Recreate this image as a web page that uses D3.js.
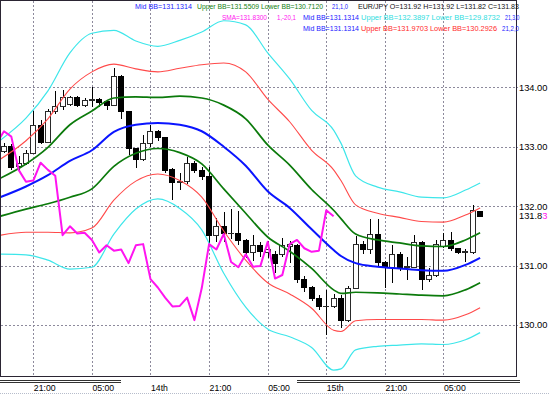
<!DOCTYPE html>
<html><head><meta charset="utf-8">
<script src="https://cdn.jsdelivr.net/npm/d3@7"></script>
<style>html,body{margin:0;padding:0;background:#fff;overflow:hidden}svg{display:block}</style>
</head><body><svg id="c" width="549" height="394"></svg>
<script>
// ---------------- DATA ----------------
const open  = [132.93,133.02,132.68,132.73,132.90,133.36,133.08,133.60,133.69,133.72,133.84,133.70,133.79,133.80,133.77,133.70,134.19,133.60,132.98,132.80,133.06,133.26,133.17,132.62,132.41,132.42,132.73,132.61,132.51,131.52,131.67,131.54,131.55,131.43,131.22,131.34,131.22,131.20,131.20,131.33,131.34,130.77,130.63,130.46,130.31,130.31,130.46,130.08,130.62,131.36,131.27,131.53,131.06,130.97,131.20,130.98,130.98,131.40,130.78,130.84,131.33,131.43,131.29,131.23,131.23,131.92];
const high  = [133.06,133.04,132.85,132.95,133.60,133.45,133.63,133.93,133.95,133.86,133.86,133.82,134.00,133.82,133.79,134.32,134.20,133.60,132.98,133.20,133.37,133.28,133.17,132.64,132.55,132.82,132.76,132.66,132.66,131.80,131.90,131.95,131.91,131.45,131.52,131.40,131.42,131.25,131.47,131.42,131.36,130.82,130.66,130.50,130.59,130.52,130.50,130.65,131.49,131.42,131.79,131.79,131.08,131.35,131.22,131.15,131.51,131.42,130.96,131.43,131.54,131.56,131.30,131.27,132.02,131.92];
const low   = [132.90,132.60,132.60,132.70,132.88,133.05,133.06,133.55,133.62,133.68,133.66,133.66,133.66,133.67,133.62,133.68,133.46,132.86,132.64,132.76,133.00,133.10,132.55,132.10,132.27,132.38,132.55,132.44,131.37,131.40,131.40,131.45,131.34,131.12,131.08,131.15,131.12,130.88,131.15,131.05,130.70,130.55,130.40,130.25,129.83,130.28,129.94,130.05,130.60,131.20,131.20,131.00,130.62,130.70,130.90,130.76,130.96,130.59,130.72,130.80,131.30,131.25,131.20,131.06,131.20,131.82];
const close = [133.02,132.66,132.73,132.90,133.36,133.08,133.60,133.69,133.83,133.84,133.70,133.78,133.80,133.76,133.70,134.19,133.60,132.98,132.80,133.06,133.26,133.17,132.61,132.41,132.43,132.73,132.61,132.51,131.51,131.66,131.54,131.55,131.43,131.22,131.34,131.25,131.27,131.04,131.34,131.36,130.77,130.63,130.46,130.31,130.32,130.46,130.08,130.62,131.36,131.27,131.53,131.06,130.97,131.19,130.98,130.99,131.40,130.78,130.84,131.36,131.43,131.29,131.23,131.25,131.93,131.83];
const smaShift = -20;   // SMA(1) shifted -20 bars (magenta)

// Bollinger band readings, at these bar indices
const bandIdx = [-0.5,3,6,9,12,15,18,21,24,27,30,33,36,39,42,45,46,48,51,54,57,60,63,65];
const midBB   = [132.15,132.33,132.52,132.76,132.94,133.25,133.37,133.40,133.37,133.26,133.00,132.68,132.25,131.97,131.61,131.26,131.16,131.04,130.98,130.95,130.92,130.91,131.01,131.13];
const upper1  = [132.47,132.71,132.99,133.37,133.60,133.82,133.84,133.83,133.85,133.82,133.70,133.47,133.03,132.69,132.28,131.93,131.79,131.53,131.43,131.38,131.33,131.32,131.43,131.55];
const lower1  = [131.83,131.95,132.04,132.15,132.29,132.67,132.89,132.97,132.90,132.71,132.29,131.88,131.48,131.24,130.95,130.59,130.53,130.55,130.54,130.52,130.50,130.49,130.59,130.71];
const upper2  = [132.79,133.10,133.47,133.97,134.26,134.39,134.31,134.26,134.32,134.38,134.41,134.26,133.80,133.42,132.94,132.61,132.43,132.02,131.88,131.81,131.74,131.73,131.85,131.97];
const lower2  = [131.51,131.56,131.56,131.55,131.63,132.10,132.42,132.54,132.43,132.15,131.58,131.09,130.71,130.52,130.28,129.91,129.89,130.07,130.09,130.09,130.09,130.08,130.17,130.29];
const upper3  = [133.11,133.48,133.94,134.58,134.91,134.96,134.78,134.69,134.79,134.93,135.12,135.05,134.58,134.14,133.61,133.28,133.06,132.51,132.32,132.24,132.15,132.14,132.27,132.39];
const lower3  = [131.19,131.18,131.09,130.94,130.97,131.53,131.95,132.12,131.96,131.60,130.87,130.30,129.93,129.80,129.62,129.24,129.26,129.58,129.64,129.66,129.68,129.67,129.75,129.87];

const priceTicks = [130,131,132,133,134];
const lastPrice = 131.83;
const timeTickIdx = [4,12,20,28,36,44,52,60];
const timeTickLabels = ["21:00","05:00","14th","21:00","05:00","15th","21:00","05:00"];

// ---------------- LAYOUT ----------------
const PR = 516, PB = 376;   // plot right / bottom
const x = d3.scaleLinear().domain([0, close.length - 1]).range([4, 480.1]);
const y = d3.scaleLinear().domain([130, 134]).range([324.9, 87.3]);
const crisp = v => Math.round(v) + 0.5;
const FONT = "'Liberation Sans', Arial, sans-serif";

const svg = d3.select("#c");
svg.append("rect").attr("width", 549).attr("height", 394).attr("fill", "#fff");
svg.append("defs").append("clipPath").attr("id", "clip")
  .append("rect").attr("x", 1).attr("y", 1).attr("width", PR - 1).attr("height", PB - 1);

function fitText(sel, w) {
  const len = sel.node().getComputedTextLength();
  const fs = parseFloat(sel.attr("font-size"));
  if (len > 0) sel.attr("font-size", (fs * w / len).toFixed(2));
}

// grid
const gh = svg.append("g");
gh.selectAll("line").data(priceTicks).join("line")
  .attr("x1", 1).attr("x2", PR + 2)
  .attr("y1", d => crisp(y(d))).attr("y2", d => crisp(y(d)))
  .attr("stroke", "#8d8a9c").attr("stroke-dasharray", "2,2");
const gv = svg.append("g");
gv.selectAll("line").data(timeTickIdx).join("line")
  .attr("x1", d => crisp(x(d))).attr("x2", d => crisp(x(d)))
  .attr("y1", 1).attr("y2", PB)
  .attr("stroke", "#8d8a9c").attr("stroke-dasharray", "2,2");

// candles
const idx = d3.range(close.length);
const cg = svg.append("g").attr("clip-path", "url(#clip)");
cg.selectAll("line").data(idx).join("line")
  .attr("x1", i => crisp(x(i))).attr("x2", i => crisp(x(i)))
  .attr("y1", i => Math.round(y(high[i]))).attr("y2", i => Math.round(y(low[i])))
  .attr("stroke", "#000").attr("stroke-width", 1);
cg.selectAll("rect").data(idx).join("rect")
  .attr("x", i => Math.round(x(i)) - 2.5)
  .attr("width", 5)
  .attr("y", i => crisp(y(Math.max(open[i], close[i]))))
  .attr("height", i => Math.max(0.01, Math.round(y(Math.min(open[i], close[i]))) - Math.round(y(Math.max(open[i], close[i])))))
  .attr("fill", i => close[i] >= open[i] ? "#fff" : "#000")
  .attr("stroke", i => close[i] >= open[i] ? "#2a2a2a" : "#000")
  .attr("stroke-width", 1);

// indicator lines
const lg = svg.append("g").attr("clip-path", "url(#clip)");
const bandLine = d3.line().x(d => x(d[0])).y(d => y(d[1])).curve(d3.curveMonotoneX);
function band(vals, color, w) {
  lg.append("path").datum(bandIdx.map((k, i) => [k, vals[i]]))
    .attr("d", bandLine).attr("fill", "none")
    .attr("stroke", color).attr("stroke-width", w).attr("stroke-linejoin", "round");
}
band(upper3, "#3ee6ea", 1.2);
band(lower3, "#3ee6ea", 1.2);
band(upper2, "#ff4a4a", 1.1);
band(lower2, "#ff4a4a", 1.1);
band(upper1, "#0b7a0b", 1.7);
band(lower1, "#0b7a0b", 1.7);
band(midBB, "#0a14ff", 2);

const shifted = d3.range(-1, close.length + smaShift).map(k => [k, close[k - smaShift]]);
lg.append("path").datum(shifted)
  .attr("d", d3.line().x(d => x(d[0])).y(d => y(d[1])))
  .attr("fill", "none").attr("stroke", "#ff14f0").attr("stroke-width", 2)
  .attr("stroke-linejoin", "round");

// frame
svg.append("rect").attr("x", 0.5).attr("y", 0.5).attr("width", PR).attr("height", PB)
  .attr("fill", "none").attr("stroke", "#2b2533").attr("stroke-width", 1);

// right price axis
const ay = svg.append("g").attr("transform", `translate(${PR},0)`)
  .call(d3.axisRight(y).tickValues(priceTicks).tickFormat(d3.format(".2f")).tickSize(0).tickPadding(3));
ay.select(".domain").remove();
ay.selectAll("text").attr("font-family", FONT).attr("font-size", 10).attr("fill", "#000")
  .each(function () { fitText(d3.select(this), 28.5); });

const lp = svg.append("text").attr("x", PR + 3).attr("y", y(lastPrice)).attr("dy", "0.34em")
  .attr("font-family", FONT).attr("font-size", 10).attr("fill", "#000");
const lpStr = d3.format(".2f")(lastPrice);
lp.append("tspan").text(lpStr.slice(0, -1));
lp.append("tspan").attr("fill", "#ff14f0").text(lpStr.slice(-1));
fitText(lp, 28.5);

// bottom time axis
const ax = svg.append("g").attr("transform", `translate(0,${PB})`)
  .call(d3.axisBottom(x).tickValues(timeTickIdx).tickFormat((d, i) => timeTickLabels[i]).tickSize(0));
ax.select(".domain").remove();
ax.selectAll("text").attr("text-anchor", "start").attr("x", 0).attr("y", 15).attr("dy", 0)
  .attr("font-family", FONT).attr("font-size", 8.7).attr("fill", "#000");

// separators under plot
const sep = svg.append("g").attr("stroke", "#333").attr("stroke-width", 1);
[[0, 121], [297, 520]].forEach(([a, b]) => {
  sep.append("line").attr("x1", a).attr("x2", b).attr("y1", 380.5).attr("y2", 380.5);
  sep.append("line").attr("x1", a).attr("x2", b).attr("y1", 382.5).attr("y2", 382.5);
});
svg.append("line").attr("x1", 0).attr("x2", 549).attr("y1", 393.5).attr("y2", 393.5)
  .attr("stroke", "#b6bccb").attr("stroke-dasharray", "1,1");

// indicator legends
const legend = [
  {y: 9, parts: [
    {t: "Mid BB=131.1314", c: "#1a1aff", x: 135, w: 57},
    {t: "Upper BB=131.5509 Lower BB=130.7120", c: "#108010", x: 197, w: 126},
    {t: "21,1,0", c: "#1a1aff", x: 332, w: 16},
    {t: "EUR/JPY O=131.92 H=131.92 L=131.82 C=131.83", c: "#111", x: 358, w: 161}]},
  {y: 20, parts: [
    {t: "SMA=131.8300", c: "#ff14f0", x: 222, w: 45},
    {t: "1,-20,1", c: "#ff14f0", x: 277, w: 19},
    {t: "Mid BB=131.1314", c: "#1a1aff", x: 303, w: 56},
    {t: "Upper BB=132.3897 Lower BB=129.8732", c: "#2fdde0", x: 361, w: 139},
    {t: "21,3,0", c: "#1a1aff", x: 505, w: 14.5}]},
  {y: 31, parts: [
    {t: "Mid BB=131.1314", c: "#1a1aff", x: 303, w: 56},
    {t: "Upper BB=131.9703 Lower BB=130.2926", c: "#ff2a2a", x: 361, w: 136},
    {t: "21,2,0", c: "#1a1aff", x: 502, w: 17}]}
];
const lgd = svg.append("g");
legend.forEach(row => row.parts.forEach(p => {
  lgd.append("text").attr("x", p.x).attr("y", row.y).attr("fill", p.c)
    .attr("font-family", FONT).attr("font-size", 7.2)
    .attr("textLength", p.w).attr("lengthAdjust", "spacingAndGlyphs").text(p.t);
}));
</script>
</body></html>
